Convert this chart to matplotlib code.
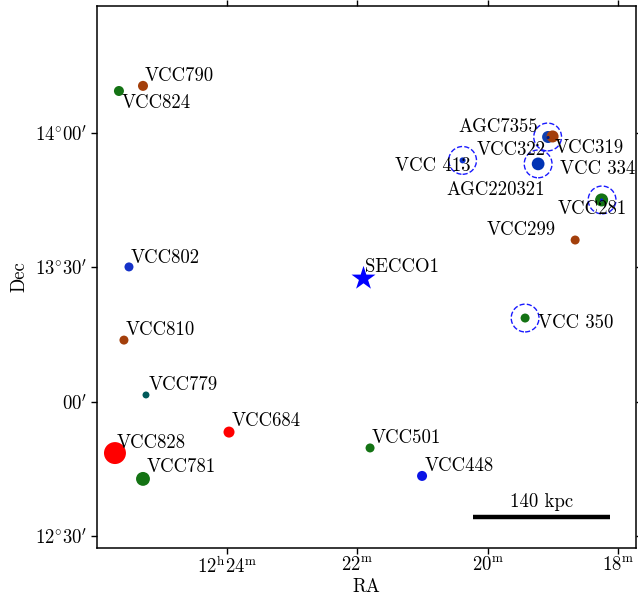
import matplotlib
matplotlib.use("Agg")
import matplotlib.pyplot as plt
from matplotlib.ticker import FixedLocator, FixedFormatter

plt.rcParams['font.family'] = 'serif'
plt.rcParams['font.serif'] = ['cmr10']
plt.rcParams['mathtext.fontset'] = 'cm'
plt.rcParams['axes.unicode_minus'] = False
plt.rcParams['axes.formatter.use_mathtext'] = True

# RA given as minutes past 12h, Dec in degrees
names = ['VCC790', 'VCC824', 'VCC802', 'VCC810', 'VCC779', 'VCC684', 'VCC828',
         'VCC781', 'VCC501', 'VCC448', 'VCC 350', 'VCC299', 'VCC281', 'VCC 334',
         'VCC 413', 'VCC322', 'VCC319', 'AGC7355', 'AGC220321']
ra = [25.289, 25.658, 25.504, 25.581, 25.243, 23.969, 25.719,
      25.289, 21.805, 21.007, 19.426, 18.658, 18.252, 19.226,
      20.385, 19.073, 19.004, 19.073, 18.252]
dec = [14.175, 14.156, 13.502, 13.230, 13.026, 12.888, 12.810,
       12.714, 12.829, 12.725, 13.312, 13.602, 13.751, 13.885,
       13.898, 13.985, 13.987, 13.983, 13.751]
sizes = [52, 52, 42, 42, 25, 63, 250,
         100, 42, 52, 42, 42, 88, 84,
         19, 75, 75, 5, 5]
colors = ['#a33f0b', '#147314', '#1532c8', '#a33f0b', '#005a5a', '#ff0000', '#ff0000',
          '#147314', '#147314', '#0a14e6', '#147314', '#a33f0b', '#147314', '#0033b4',
          '#0a30c8', '#1040b0', '#a33f0b', '#001a80', '#0a14e6']
# label offsets in pixels (dx right, dy up) of the text baseline start
label_dx = [2, 3, 2, 2, 3, 3, 2, 4, 2, 2.5, 13, -89, -44, 21.6, -68, -71, 2.5, -90, -155]
label_dy = [5, -17, 4, 5, 5, 6, 5, 7, 5, 5, -10, 5, -14, -10, -11, -18, -17, 6, 5]

secco_ra, secco_dec = 21.913, 13.461

# dashed circles around HI sources
ring_ra = [20.385, 19.08, 19.226, 18.245, 19.426]
ring_dec = [13.898, 13.985, 13.885, 13.751, 13.312]

bar_ra = [20.224, 18.121]
bar_dec = 12.572

fig = plt.figure(figsize=(6.38, 5.99), dpi=100)
ax = fig.add_axes([0.152, 0.0851, 0.8449, 0.9049])

ax.scatter(ra[:-3], dec[:-3], s=sizes[:-3], c=colors[:-3], zorder=3, linewidths=0)
ax.scatter(ra[-3:], dec[-3:], s=sizes[-3:], c=colors[-3:], zorder=4, linewidths=0)
ax.scatter([secco_ra], [secco_dec], marker='*', s=330, c='#0000ff', zorder=3, linewidths=0)
ax.scatter(ring_ra, ring_dec, s=400, facecolors='none', edgecolors='#1a1aff',
           linestyles='--', linewidths=1.0, zorder=5)

for n, x, y, dx, dy in zip(names, ra, dec, label_dx, label_dy):
    ax.annotate(n, (x, y), xytext=(dx * 0.72, dy * 0.72), textcoords='offset points',
                ha='left', va='baseline', fontsize=13.5, zorder=6)
ax.annotate('SECCO1', (secco_ra, secco_dec), xytext=(2 * 0.72, 6 * 0.72),
            textcoords='offset points', ha='left', va='baseline', fontsize=13.5)

ax.plot(bar_ra, [bar_dec, bar_dec], color='black', lw=3.2, solid_capstyle='butt')
ax.annotate('140 kpc', ((bar_ra[0] + bar_ra[1]) / 2, bar_dec), xytext=(0, 10 * 0.72),
            textcoords='offset points', ha='center', va='baseline', fontsize=13.5)

ax.set_xlim(25.995, 17.724)
ax.set_ylim(12.457, 14.472)

xt = [24, 22, 20, 18]
xl = [r'$12^{\mathrm{h}}24^{\mathrm{m}}$', r'$22^{\mathrm{m}}$', r'$20^{\mathrm{m}}$', r'$18^{\mathrm{m}}$']
yt = [14.0, 13.5, 13.0, 12.5]
yl = [r"$14^{\circ}00^{\prime}$", r"$13^{\circ}30^{\prime}$", r"$00^{\prime}$", r"$12^{\circ}30^{\prime}$"]
ax.xaxis.set_major_locator(FixedLocator(xt))
ax.xaxis.set_major_formatter(FixedFormatter(xl))
ax.yaxis.set_major_locator(FixedLocator(yt))
ax.yaxis.set_major_formatter(FixedFormatter(yl))
ax.tick_params(direction='out', length=4, width=1, labelsize=13.5,
               top=True, right=True, pad=3)
ax.tick_params(axis='x', pad=1.5)
for sp in ax.spines.values():
    sp.set_linewidth(1.1)

ax.set_xlabel('RA', fontsize=13.5, labelpad=1)
ax.set_ylabel('Dec', fontsize=13.5, labelpad=5)

fig.savefig('out.png', dpi=100)
